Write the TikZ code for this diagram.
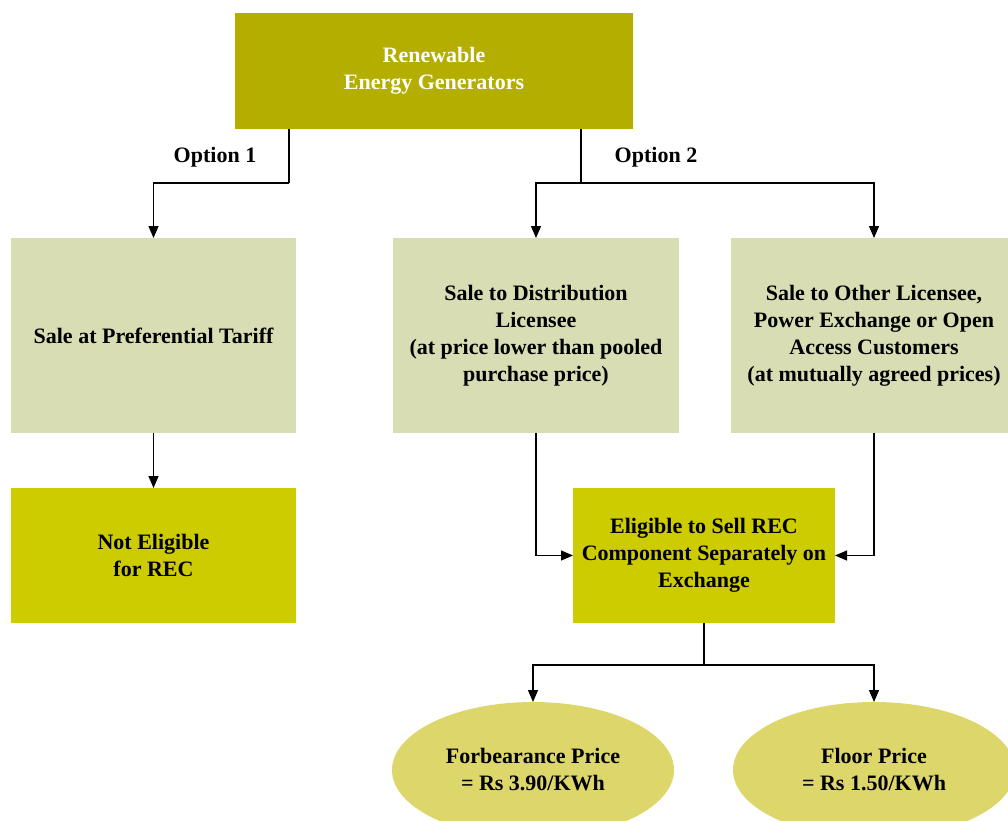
\documentclass[tikz,border=0pt]{standalone}
\usepackage{fontspec}
\setmainfont{Liberation Serif}
\usetikzlibrary{arrows.meta,shapes.geometric}
\definecolor{topc}{RGB}{179,174,0}
\definecolor{lightc}{RGB}{216,221,179}
\definecolor{yelc}{RGB}{204,204,0}
\definecolor{ellc}{RGB}{221,214,106}
\tikzset{
  base/.style={font=\fontsize{22}{27}\selectfont\bfseries, align=center, inner sep=0pt, outer sep=0pt},
  topbox/.style={base, fill=topc, text=white, minimum width=398pt, minimum height=116pt},
  lightbox/.style={base, fill=lightc, minimum width=285pt, minimum height=195pt},
  yelbox/.style={base, fill=yelc, minimum height=135pt},
  ellbox/.style={base, ellipse, fill=ellc, minimum width=282pt, minimum height=136pt},
  lab/.style={font=\fontsize{22}{27}\selectfont\bfseries, inner sep=0pt},
  conn/.style={line width=1.2pt, black},
  arr/.style={conn, -{Triangle[width=10pt,length=12pt]}}
}
\begin{document}
\begin{tikzpicture}[x=1pt,y=-1pt]
\useasboundingbox (0,0) rectangle (1008,820);
\fill[white] (0,0) rectangle (1008,820);
\node[topbox] (top) at (434,71) {Renewable\\Energy Generators};
\node[lightbox] (pref) at (153.5,335.5) {Sale at Preferential Tariff};
\node[lightbox, minimum width=286pt] (dist) at (536,335.5) {Sale to Distribution\\Licensee\\(at price lower than pooled\\purchase price)};
\node[lightbox, minimum width=286pt] (other) at (874,335.5) {Sale to Other Licensee,\\Power Exchange or Open\\Access Customers\\(at mutually agreed prices)};
\node[yelbox, minimum width=285pt] (notel) at (153.5,555.5) {Not Eligible\\for REC};
\node[yelbox, minimum width=262pt] (elig) at (704,555.5) {Eligible to Sell REC\\Component Separately on\\Exchange};
\node[ellbox] (forb) at (533,770) {Forbearance Price\\= Rs 3.90/KWh};
\node[ellbox] (floor) at (874,770) {Floor Price\\= Rs 1.50/KWh};
\node[lab] (o1) at (215,157) {Option 1};
\node[lab] (o2) at (656,157) {Option 2};
\coordinate (j1) at (289,183);
\coordinate (j2) at (581,183);
\coordinate (j3) at (704,665);
\draw[conn] (top.south -| j1) -- (j1);
\draw[arr] (j1) -| (pref.north);
\draw[conn] (top.south -| j2) -- (j2);
\draw[arr] (j2) -| (dist.north);
\draw[arr] (j2) -| (other.north);
\draw[arr] (pref.south) -- (notel.north);
\draw[arr] (dist.south) |- (elig.west);
\draw[arr] (other.south) |- (elig.east);
\draw[conn] (elig.south) -- (j3);
\draw[arr] (j3) -| (forb.north);
\draw[arr] (j3) -| (floor.north);
\end{tikzpicture}
\end{document}
